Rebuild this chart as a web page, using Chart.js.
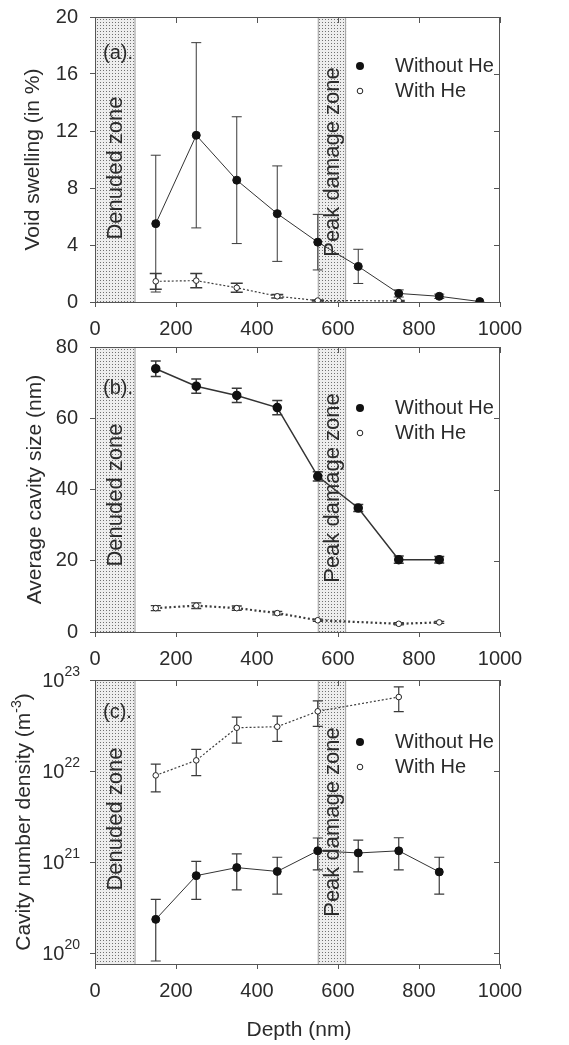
<!DOCTYPE html>
<html>
<head>
<meta charset="utf-8">
<script src="https://cdn.jsdelivr.net/npm/chart.js@4.4.1/dist/chart.umd.min.js"></script>
<style>
  body { margin: 0; background: #fff; width: 569px; height: 1045px; position: relative; overflow: hidden; }
  canvas { position: absolute; left: 0; }
</style>
</head>
<body>
<canvas id="ca" width="569" height="345" style="top:0px"></canvas>
<canvas id="cb" width="569" height="345" style="top:330px"></canvas>
<canvas id="cc" width="569" height="385" style="top:660px"></canvas>
<script>
// --------------------------- Data

const xTicks = [0, 200, 400, 600, 800, 1000];
const zones = [[0, 100], [550, 620]];
const zoneNames = ['Denuded zone', 'Peak damage zone'];

// (a) void swelling, %
const swellDepth = [150, 250, 350, 450, 550, 650, 750, 850, 950];
const swellNoHe = [5.5, 11.7, 8.55, 6.2, 4.2, 2.5, 0.6, 0.4, 0.03];
const swellNoHeErr = [4.8, 6.5, 4.45, 3.35, 1.95, 1.2, 0.25, 0.15, 0];
const swellHeDepth = [150, 250, 350, 450, 550, 750];
const swellHe = [1.45, 1.5, 1.0, 0.4, 0.1, 0.08];
const swellHeErr = [0.55, 0.5, 0.32, 0.12, 0.03, 0.03];

// (b) average cavity size, nm
const sizeDepth = [150, 250, 350, 450, 550, 650, 750, 850];
const sizeNoHe = [73.9, 69.0, 66.4, 63.0, 43.7, 34.8, 20.3, 20.3];
const sizeNoHeErr = [2.2, 2.0, 2.0, 2.0, 1.3, 1.0, 1.0, 0.9];
const sizeHeDepth = [150, 250, 350, 450, 550, 750, 850];
const sizeHe = [6.7, 7.4, 6.7, 5.3, 3.3, 2.3, 2.7];
const sizeHeErr = [0.7, 0.8, 0.6, 0.5, 0.3, 0.3, 0.3];

// (c) cavity number density, m^-3 (asymmetric bars on log axis)
const densDepth = [150, 250, 350, 450, 550, 650, 750, 850];
const densNoHe = [2.35e20, 7.1e20, 8.7e20, 7.9e20, 1.33e21, 1.26e21, 1.33e21, 7.8e20];
const densNoHeLo = [8.2e19, 3.9e20, 4.96e20, 4.45e20, 8.2e20, 7.8e20, 8.2e20, 4.45e20];
const densNoHeHi = [3.9e20, 1.02e21, 1.23e21, 1.13e21, 1.84e21, 1.74e21, 1.85e21, 1.13e21];
const densHeDepth = [150, 250, 350, 450, 550, 750];
const densHe = [8.96e21, 1.31e22, 2.99e22, 3.07e22, 4.53e22, 6.5e22];
const densHeLo = [5.9e21, 8.9e21, 2.03e22, 2.12e22, 3.09e22, 4.5e22];
const densHeHi = [1.19e22, 1.73e22, 3.92e22, 4.02e22, 5.9e22, 8.4e22];
const densExp = [20, 21, 22, 23];

// --------------------------- Styling

const FONT = "'Liberation Sans', Arial, sans-serif";
const INK = '#2b2b2b';
const AXIS = '#555';

const tile = document.createElement('canvas');
tile.width = 3; tile.height = 3;
(function () {
    const g = tile.getContext('2d');
    g.fillStyle = '#ededed'; g.fillRect(0, 0, 3, 3);
    g.fillStyle = '#707070'; g.fillRect(1, 1, 1, 1);
})();

function lower(v, e) { return v.map((d, i) => d - e[i]); }
function upper(v, e) { return v.map((d, i) => d + e[i]); }

function errBars(ctx, xs, ys, xv, lo, hi, cap, lw) {
    ctx.save();
    ctx.strokeStyle = '#3a3a3a';
    ctx.lineWidth = lw;
    xv.forEach((xx, i) => {
        if (hi[i] - lo[i] <= 0) return;
        const px = xs.getPixelForValue(xx);
        const p0 = ys.getPixelForValue(lo[i]), p1 = ys.getPixelForValue(hi[i]);
        ctx.beginPath();
        ctx.moveTo(px, p0); ctx.lineTo(px, p1);
        ctx.moveTo(px - cap, p0); ctx.lineTo(px + cap, p0);
        ctx.moveTo(px - cap, p1); ctx.lineTo(px + cap, p1);
        ctx.stroke();
    });
    ctx.restore();
}

function makePanel(id, p) {
    const deco = {
        id: 'deco',
        beforeDatasetsDraw(chart) {
            const { ctx, chartArea: a, scales: { x, y } } = chart;
            ctx.save();
            const pat = ctx.createPattern(tile, 'repeat');
            zones.forEach(([z0, z1], k) => {
                const x0 = x.getPixelForValue(z0), x1 = x.getPixelForValue(z1);
                ctx.fillStyle = pat;
                ctx.fillRect(x0, a.top, x1 - x0, a.bottom - a.top);
                ctx.strokeStyle = '#a0a0a0';
                ctx.lineWidth = 1;
                ctx.beginPath();
                ctx.moveTo(x0 + 0.5, a.top); ctx.lineTo(x0 + 0.5, a.bottom);
                ctx.moveTo(x1 - 0.5, a.top); ctx.lineTo(x1 - 0.5, a.bottom);
                ctx.stroke();
                // zone label, vertical
                ctx.save();
                ctx.translate((x0 + x1) / 2 + 1, a.top + p.zoneY[k]);
                ctx.rotate(-Math.PI / 2);
                ctx.fillStyle = INK;
                ctx.font = '22px ' + FONT;
                ctx.textAlign = 'center';
                ctx.textBaseline = 'middle';
                ctx.fillText(zoneNames[k], 0, 0);
                ctx.restore();
            });
            ctx.restore();
            p.errors.forEach(e => errBars(ctx, x, y, e.x, e.lo, e.hi, e.cap, e.lw));
        },
        afterDraw(chart) {
            const { ctx, chartArea: a, scales: { x, y } } = chart;
            ctx.save();
            // frame with inward ticks on top and right
            ctx.strokeStyle = AXIS;
            ctx.lineWidth = 1;
            ctx.strokeRect(a.left + 0.5, a.top + 0.5, a.right - a.left - 1, a.bottom - a.top);
            ctx.beginPath();
            xTicks.forEach(v => {
                const px = Math.round(x.getPixelForValue(v)) + 0.5;
                ctx.moveTo(px, a.top); ctx.lineTo(px, a.top + 6);
            });
            y.ticks.forEach(t => {
                const py = Math.round(y.getPixelForValue(t.value)) + 0.5;
                ctx.moveTo(a.right, py); ctx.lineTo(a.right - 6, py);
            });
            ctx.stroke();

            ctx.fillStyle = INK;
            ctx.textBaseline = 'middle';
            // panel letter
            ctx.font = '20px ' + FONT;
            ctx.textAlign = 'left';
            ctx.fillText(p.letter, 103, a.top + p.letterY);
            // legend
            const ly = a.top + p.legendY;
            ctx.beginPath(); ctx.arc(360, ly, 4, 0, 2 * Math.PI);
            ctx.fillStyle = '#111'; ctx.fill();
            ctx.beginPath(); ctx.arc(360, ly + 25, 2.8, 0, 2 * Math.PI);
            ctx.fillStyle = '#fff'; ctx.fill();
            ctx.strokeStyle = '#222'; ctx.stroke();
            ctx.fillStyle = INK;
            ctx.font = '20px ' + FONT;
            ctx.fillText('Without He', 395, ly);
            ctx.fillText('With He', 395, ly + 25);

            // y title
            ctx.save();
            ctx.translate(p.titleX, (a.top + a.bottom) / 2);
            ctx.rotate(-Math.PI / 2);
            ctx.font = '21px ' + FONT;
            if (p.titleSup) {
                const [t1, s, t2] = p.titleSup;
                const w1 = ctx.measureText(t1).width, w3 = ctx.measureText(t2).width;
                ctx.font = '14px ' + FONT;
                const w2 = ctx.measureText(s).width;
                let sx = -(w1 + w2 + w3) / 2;
                ctx.textAlign = 'left';
                ctx.font = '21px ' + FONT;
                ctx.fillText(t1, sx, 0);
                ctx.font = '14px ' + FONT;
                ctx.fillText(s, sx + w1, -7);
                ctx.font = '21px ' + FONT;
                ctx.fillText(t2, sx + w1 + w2, 0);
            } else {
                ctx.textAlign = 'center';
                ctx.fillText(p.title, 0, 0);
            }
            ctx.restore();

            // power-of-ten tick labels for the log axis
            if (p.logLabels) {
                densExp.forEach(e => {
                    const py = y.getPixelForValue(Math.pow(10, e));
                    ctx.textAlign = 'right';
                    ctx.font = '14px ' + FONT;
                    const sw = ctx.measureText(String(e)).width;
                    ctx.fillText(String(e), 80, py - 8);
                    ctx.font = '20px ' + FONT;
                    ctx.fillText('10', 80 - sw, py + 1);
                });
            }
            // x title
            if (p.xTitle) {
                ctx.textAlign = 'center';
                ctx.font = '21px ' + FONT;
                ctx.fillText(p.xTitle, 299, a.bottom + 66);
            }
            ctx.restore();
        }
    };

    const yScale = Object.assign({
        position: 'left',
        border: { display: true, color: AXIS },
        grid: { display: true, drawOnChartArea: false, drawTicks: true, tickLength: 5, color: AXIS },
        afterFit(s) { s.width = 95; s.paddingTop = 0; s.paddingBottom = 0; }
    }, p.y);

    return new Chart(document.getElementById(id), {
        type: 'line',
        data: {
            datasets: [
                {
                    label: 'Without He',
                    data: p.noHe.x.map((v, i) => ({ x: v, y: p.noHe.y[i] })),
                    borderColor: '#333',
                    borderWidth: p.solidW,
                    pointRadius: 4,
                    pointBackgroundColor: '#111',
                    pointBorderColor: '#111',
                    tension: 0
                },
                {
                    label: 'With He',
                    data: p.he.x.map((v, i) => ({ x: v, y: p.he.y[i] })),
                    borderColor: '#3c3c3c',
                    borderWidth: p.dotW,
                    borderDash: p.dash,
                    pointRadius: 2.8,
                    pointBorderWidth: 1,
                    pointBackgroundColor: '#fff',
                    pointBorderColor: '#222',
                    tension: 0
                }
            ]
        },
        options: {
            responsive: false,
            animation: false,
            devicePixelRatio: 1,
            layout: { padding: { top: p.padTop, right: 69, left: 0, bottom: 0 } },
            plugins: { legend: { display: false }, tooltip: { enabled: false } },
            scales: {
                x: {
                    type: 'linear',
                    min: 0, max: 1000,
                    border: { display: true, color: AXIS },
                    grid: { display: true, drawOnChartArea: false, drawTicks: true, tickLength: 5, color: AXIS },
                    ticks: {
                        stepSize: 200, color: INK, font: { family: FONT, size: 20 }, padding: 10,
                        maxRotation: 0, autoSkip: false, callback: v => String(v)
                    },
                    afterFit(s) { s.height = p.xHeight; }
                },
                y: yScale
            }
        },
        plugins: [deco]
    });
}

// --------------------------- Panels

const yTickFont = { family: FONT, size: 20 };

makePanel('ca', {
    padTop: 17, xHeight: 43, solidW: 1, dotW: 1.2, dash: [2, 2],
    letter: '(a).', letterY: 36, legendY: 49, zoneY: [151, 145],
    titleX: 33, title: 'Void swelling (in %)',
    y: { type: 'linear', min: 0, max: 20, ticks: { stepSize: 4, color: INK, font: yTickFont, padding: 12 } },
    noHe: { x: swellDepth, y: swellNoHe },
    he: { x: swellHeDepth, y: swellHe },
    errors: [
        { x: swellDepth, lo: lower(swellNoHe, swellNoHeErr), hi: upper(swellNoHe, swellNoHeErr), cap: 5, lw: 1 },
        { x: swellHeDepth, lo: lower(swellHe, swellHeErr), hi: upper(swellHe, swellHeErr), cap: 6, lw: 1.6 }
    ]
});

makePanel('cb', {
    padTop: 17, xHeight: 43, solidW: 1.5, dotW: 2.2, dash: [2, 2.5],
    letter: '(b).', letterY: 41, legendY: 61, zoneY: [148, 141],
    titleX: 35, title: 'Average cavity size (nm)',
    y: { type: 'linear', min: 0, max: 80, ticks: { stepSize: 20, color: INK, font: yTickFont, padding: 12 } },
    noHe: { x: sizeDepth, y: sizeNoHe },
    he: { x: sizeHeDepth, y: sizeHe },
    errors: [
        { x: sizeDepth, lo: lower(sizeNoHe, sizeNoHeErr), hi: upper(sizeNoHe, sizeNoHeErr), cap: 5, lw: 1.5 },
        { x: sizeHeDepth, lo: lower(sizeHe, sizeHeErr), hi: upper(sizeHe, sizeHeErr), cap: 5, lw: 1.3 }
    ]
});

makePanel('cc', {
    padTop: 20, xHeight: 81, solidW: 1, dotW: 1.2, dash: [2, 2],
    letter: '(c).', letterY: 32, legendY: 62, zoneY: [139, 142],
    titleX: 24, titleSup: ['Cavity number density (m', '-3', ')'],
    xTitle: 'Depth (nm)', logLabels: true,
    y: {
        type: 'logarithmic', min: 7.6e19, max: 1e23,
        ticks: { callback: () => '', padding: 3 },
        afterBuildTicks(s) { s.ticks = densExp.map(e => ({ value: Math.pow(10, e) })); }
    },
    noHe: { x: densDepth, y: densNoHe },
    he: { x: densHeDepth, y: densHe },
    errors: [
        { x: densDepth, lo: densNoHeLo, hi: densNoHeHi, cap: 5, lw: 1.2 },
        { x: densHeDepth, lo: densHeLo, hi: densHeHi, cap: 5, lw: 1.2 }
    ]
});
</script>
</body>
</html>
